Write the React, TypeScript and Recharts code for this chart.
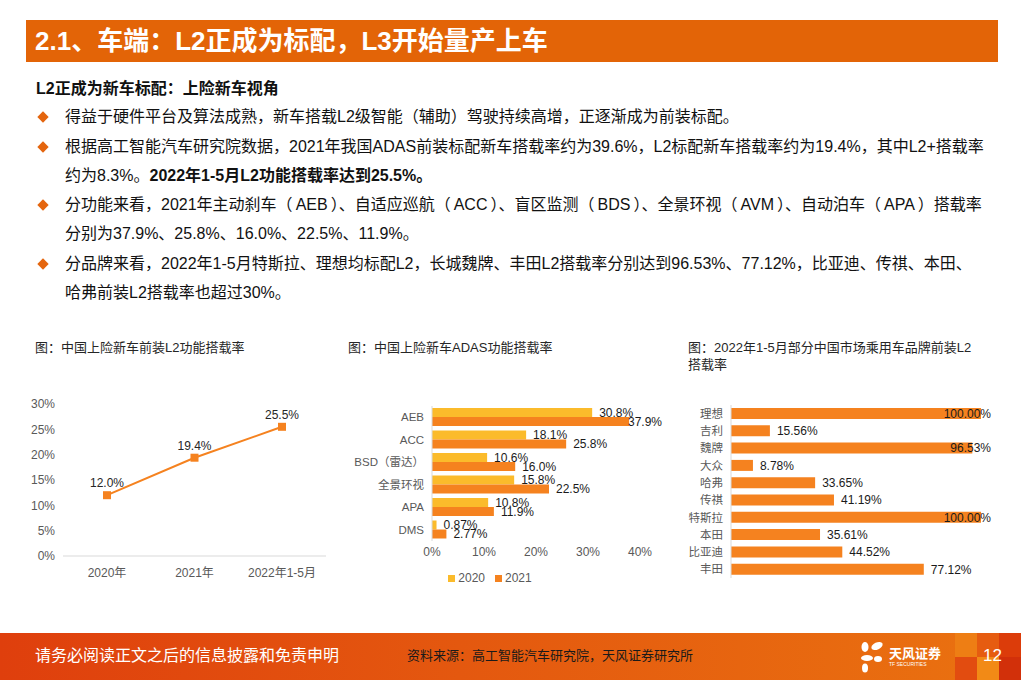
import React from 'react'
import {
  LineChart,
  Line,
  BarChart,
  Bar,
  XAxis,
  YAxis,
  LabelList,
  Legend,
} from 'recharts'

const FONT = '"Liberation Sans", Arial, "Noto Sans CJK SC", sans-serif'

// 图1：中国上险新车前装L2功能搭载率
const lineCategories = ['2020年', '2021年', '2022年1-5月']
const lineValues = [12.0, 19.4, 25.5]
const lineTicks = [0, 5, 10, 15, 20, 25, 30]

// 图2：中国上险新车ADAS功能搭载率
const adasCategories = ['AEB', 'ACC', 'BSD（雷达）', '全景环视', 'APA', 'DMS']
const adas2020 = [30.8, 18.1, 10.6, 15.8, 10.8, 0.87]
const adas2021 = [37.9, 25.8, 16.0, 22.5, 11.9, 2.77]
const adasTicks = [0, 10, 20, 30, 40]
const adasSeries = ['2020', '2021']

// 图3：2022年1-5月部分品牌前装L2搭载率
const brandNames = ['理想', '吉利', '魏牌', '大众', '哈弗', '传祺', '特斯拉', '本田', '比亚迪', '丰田']
const brandValues = [100, 15.56, 96.53, 8.78, 33.65, 41.19, 100, 35.61, 44.52, 77.12]

const ORANGE = '#F5821F'
const YELLOW = '#FBBB2B'
const GREY = '#595959'

const lineData = lineCategories.map((name, i) => ({ name, value: lineValues[i] }))
const adasData = adasCategories.map((name, i) => ({ name, y2020: adas2020[i], y2021: adas2021[i] }))
const brandData = brandNames.map((name, i) => ({ name, value: brandValues[i] }))

const pct1 = (v: number) => (v < 5 ? v.toFixed(2) : v.toFixed(1)) + '%'
const pct2 = (v: number) => v.toFixed(2) + '%'

// bar end label, pushed back inside when it would run past the right edge
const barLabel = (limit: number, fmt: (v: number) => string) => (props: any) => {
  const { x, y, width, height, value } = props
  const txt = fmt(Number(value))
  let tx = x + width + 7
  let anchor: 'start' | 'end' = 'start'
  if (tx + txt.length * 6.6 > limit) {
    tx = limit
    anchor = 'end'
  }
  return (
    <text x={tx} y={y + height / 2} dy="0.36em" textAnchor={anchor} fontSize={12} fill="#1a1a1a" fontFamily={FONT}>
      {txt}
    </text>
  )
}

const SquareDot = (props: any) => {
  const { cx, cy } = props
  if (cx == null || cy == null) return null
  return <rect x={cx - 4} y={cy - 4} width={8} height={8} fill={ORANGE} />
}

const Diamond = () => (
  <div
    style={{
      position: 'absolute',
      left: 39,
      width: 8,
      height: 8,
      background: '#E4650E',
      transform: 'rotate(45deg)',
    }}
  />
)

// full-width brackets with the loose spacing of the original slide
const P = ({ children }: { children: React.ReactNode }) => (
  <>
    （<span style={{ margin: '0 3px' }}>{children}</span>）
  </>
)

const bulletLines: { y: number; diamond?: boolean; content: React.ReactNode }[] = [
  { y: 117, diamond: true, content: '得益于硬件平台及算法成熟，新车搭载L2级智能（辅助）驾驶持续高增，正逐渐成为前装标配。' },
  {
    y: 147,
    diamond: true,
    content: '根据高工智能汽车研究院数据，2021年我国ADAS前装标配新车搭载率约为39.6%，L2标配新车搭载率约为19.4%，其中L2+搭载率',
  },
  {
    y: 176,
    content: (
      <>
        约为8.3%。<b>2022年1-5月L2功能搭载率达到25.5%。</b>
      </>
    ),
  },
  {
    y: 205,
    diamond: true,
    content: (
      <>
        分功能来看，2021年主动刹车<P>AEB</P>、自适应巡航<P>ACC</P>、盲区监测<P>BDS</P>、全景环视<P>AVM</P>、自动泊车
        <P>APA</P>搭载率
      </>
    ),
  },
  { y: 234, content: '分别为37.9%、25.8%、16.0%、22.5%、11.9%。' },
  {
    y: 264,
    diamond: true,
    content: '分品牌来看，2022年1-5月特斯拉、理想均标配L2，长城魏牌、丰田L2搭载率分别达到96.53%、77.12%，比亚迪、传祺、本田、',
  },
  { y: 293, content: '哈弗前装L2搭载率也超过30%。' },
]

const ChartTitle = ({ left, children }: { left: number; children: React.ReactNode }) => (
  <div
    style={{
      position: 'absolute',
      left,
      top: 339,
      fontSize: 13,
      lineHeight: '17px',
      color: '#262626',
      fontFamily: FONT,
    }}
  >
    {children}
  </div>
)

const AdasLegend = () => (
  <div style={{ display: 'flex', justifyContent: 'center', height: 20, alignItems: 'center', fontSize: 12, color: GREY, fontFamily: FONT }}>
    {adasSeries.map((s, i) => (
      <span key={s} style={{ display: 'flex', alignItems: 'center', marginRight: i === 0 ? 10 : 0 }}>
        <span style={{ width: 7, height: 7, background: i === 0 ? YELLOW : ORANGE, marginRight: 3 }} />
        {s}
      </span>
    ))}
  </div>
)

const Logo = () => (
  <div style={{ position: 'absolute', left: 860, top: 640 }}>
    <svg width={24} height={34}>
      <ellipse cx={5} cy={7} rx={3.5} ry={5} fill="#fff" />
      <ellipse cx={17} cy={6} rx={6} ry={3.5} fill="#fff" transform="rotate(-25 17 6)" />
      <ellipse cx={7} cy={18} rx={6} ry={3} fill="#fff" />
      <ellipse cx={18} cy={19} rx={4} ry={3} fill="#fff" />
      <ellipse cx={5} cy={28} rx={3} ry={4.5} fill="#fff" />
    </svg>
    <div style={{ position: 'absolute', left: 29, top: 3, color: '#fff', fontSize: 13, fontWeight: 'bold', whiteSpace: 'nowrap', fontFamily: FONT }}>
      天风证券
    </div>
    <div style={{ position: 'absolute', left: 29, top: 21, color: '#fff', fontSize: 5, whiteSpace: 'nowrap', fontFamily: FONT }}>
      TF SECURITIES
    </div>
  </div>
)

const mosaic = [
  { x: 955, y: 633, c: '#EE7E14' },
  { x: 977, y: 633, c: '#E65C10' },
  { x: 999, y: 633, c: '#DC3C0A' },
  { x: 955, y: 657, c: '#E24C10' },
  { x: 977, y: 657, c: '#F28A16' },
  { x: 999, y: 657, c: '#D2300A' },
]

const App: React.FC = () => {
  return (
    <div
      style={{
        position: 'absolute',
        left: 0,
        top: 0,
        width: 1021,
        height: 680,
        overflow: 'hidden',
        background: '#fff',
        fontFamily: FONT,
        color: '#111',
      }}
    >
      {/* header */}
      <div style={{ position: 'absolute', left: 26, top: 20, width: 972, height: 42, background: '#E36407' }} />
      <div
        style={{
          position: 'absolute',
          left: 35,
          top: 20,
          height: 42,
          lineHeight: '42px',
          color: '#fff',
          fontSize: 26,
          fontWeight: 'bold',
          whiteSpace: 'nowrap',
        }}
      >
        2.1、车端：L2正成为标配，L3开始量产上车
      </div>

      <div style={{ position: 'absolute', left: 36, top: 78, fontSize: 16, lineHeight: '22px', fontWeight: 'bold', whiteSpace: 'nowrap' }}>
        L2正成为新车标配：上险新车视角
      </div>

      {bulletLines.map((l, i) => (
        <div key={i} style={{ position: 'absolute', left: 0, top: l.y - 11, height: 22, width: 1021 }}>
          {l.diamond && <div style={{ position: 'absolute', top: 7 }}><Diamond /></div>}
          <div style={{ position: 'absolute', left: 65, top: 0, fontSize: 16, lineHeight: '22px', whiteSpace: 'nowrap', color: '#111' }}>
            {l.content}
          </div>
        </div>
      ))}

      {/* chart 1 */}
      <ChartTitle left={35}>图：中国上险新车前装L2功能搭载率</ChartTitle>
      <div style={{ position: 'absolute', left: 20, top: 380 }}>
        <LineChart width={320} height={220} data={lineData} margin={{ top: 24, right: 14, left: 0, bottom: 14 }}>
          <XAxis
            dataKey="name"
            height={30}
            padding={{ left: 44, right: 44 }}
            tickLine={false}
            axisLine={{ stroke: '#d9d9d9' }}
            tickMargin={6}
            interval={0}
            tick={{ fontSize: 12, fill: GREY, fontFamily: FONT }}
          />
          <YAxis
            width={43}
            domain={[0, 30]}
            ticks={lineTicks}
            tickFormatter={(v) => `${v}%`}
            tickLine={false}
            axisLine={false}
            tick={{ fontSize: 12, fill: GREY, fontFamily: FONT }}
          />
          <Line
            dataKey="value"
            stroke={ORANGE}
            strokeWidth={2}
            dot={<SquareDot />}
            activeDot={false}
            isAnimationActive={false}
          >
            <LabelList
              dataKey="value"
              position="top"
              offset={8}
              formatter={(v: any) => `${Number(v).toFixed(1)}%`}
              style={{ fontSize: 12, fill: '#262626', fontFamily: FONT }}
            />
          </Line>
        </LineChart>
      </div>

      {/* chart 2 */}
      <ChartTitle left={348}>图：中国上险新车ADAS功能搭载率</ChartTitle>
      <div style={{ position: 'absolute', left: 340, top: 380 }}>
        <BarChart
          width={340}
          height={220}
          data={adasData}
          layout="vertical"
          margin={{ top: 26, right: 40, left: 0, bottom: 12 }}
          barGap={0}
        >
          <XAxis
            type="number"
            domain={[0, 40]}
            ticks={adasTicks}
            tickFormatter={(v) => `${v}%`}
            height={27}
            tickLine={false}
            axisLine={false}
            tickMargin={0}
            tick={{ fontSize: 12, fill: GREY, fontFamily: FONT }}
          />
          <YAxis
            type="category"
            dataKey="name"
            width={92}
            interval={0}
            tickLine={false}
            axisLine={{ stroke: '#d9d9d9' }}
            tick={{ fontSize: 11.5, fill: GREY, fontFamily: FONT }}
          />
          <Legend verticalAlign="bottom" content={() => <AdasLegend />} />
          <Bar dataKey="y2020" name="2020" fill={YELLOW} barSize={9} isAnimationActive={false}>
            <LabelList dataKey="y2020" content={barLabel(322, pct1)} />
          </Bar>
          <Bar dataKey="y2021" name="2021" fill={ORANGE} barSize={9} isAnimationActive={false}>
            <LabelList dataKey="y2021" content={barLabel(322, pct1)} />
          </Bar>
        </BarChart>
      </div>

      {/* chart 3 */}
      <ChartTitle left={688}>
        图：2022年1-5月部分中国市场乘用车品牌前装L2
        <br />
        搭载率
      </ChartTitle>
      <div style={{ position: 'absolute', left: 680, top: 380 }}>
        <BarChart
          width={340}
          height={220}
          data={brandData}
          layout="vertical"
          margin={{ top: 25, right: 39, left: 0, bottom: 22 }}
        >
          <XAxis type="number" domain={[0, 100]} hide />
          <YAxis
            type="category"
            dataKey="name"
            width={51}
            interval={0}
            tickLine={false}
            axisLine={{ stroke: '#d9d9d9' }}
            tick={{ fontSize: 11.5, fill: GREY, fontFamily: FONT }}
          />
          <Bar dataKey="value" fill={ORANGE} barSize={11} isAnimationActive={false}>
            <LabelList dataKey="value" content={barLabel(311, pct2)} />
          </Bar>
        </BarChart>
      </div>

      {/* footer */}
      <div
        style={{
          position: 'absolute',
          left: 0,
          top: 633,
          width: 1021,
          height: 47,
          background: 'linear-gradient(90deg, #DF3F0D 0%, #E4580F 45%, #EA7210 100%)',
        }}
      />
      {mosaic.map((m, i) => (
        <div key={i} style={{ position: 'absolute', left: m.x, top: m.y, width: 22, height: 24, background: m.c }} />
      ))}
      <div style={{ position: 'absolute', left: 35, top: 645, fontSize: 16, lineHeight: '22px', color: '#fff', whiteSpace: 'nowrap' }}>
        请务必阅读正文之后的信息披露和免责申明
      </div>
      <div style={{ position: 'absolute', left: 407, top: 646, fontSize: 13, lineHeight: '20px', color: '#1a1a1a', whiteSpace: 'nowrap' }}>
        资料来源：高工智能汽车研究院，天风证券研究所
      </div>
      <Logo />
      <div style={{ position: 'absolute', left: 983, top: 645, fontSize: 17, lineHeight: '22px', color: '#fff', whiteSpace: 'nowrap' }}>
        12
      </div>
    </div>
  )
}

export default App
